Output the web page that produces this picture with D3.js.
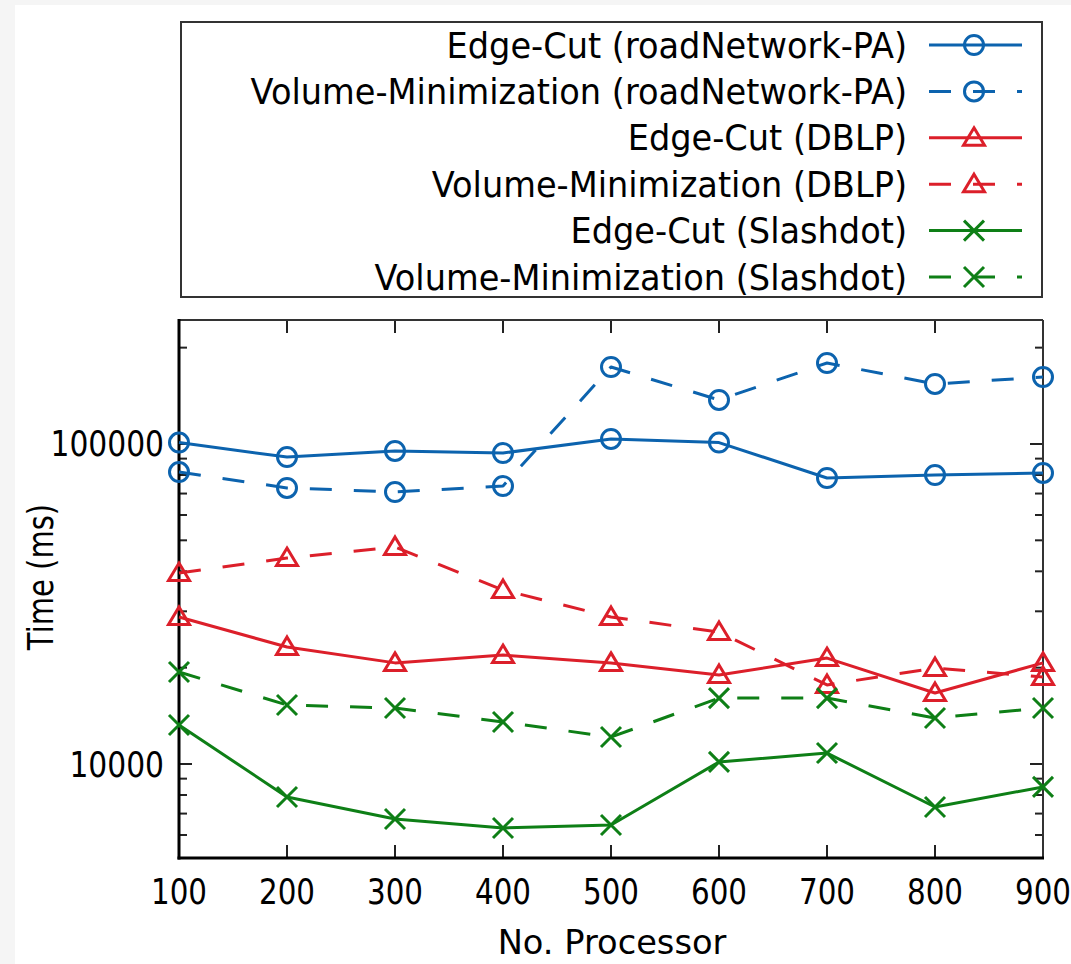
<!DOCTYPE html>
<html>
<head>
<meta charset="utf-8">
<script src="https://cdn.jsdelivr.net/npm/d3@7"></script>
<style>
  html, body { margin: 0; padding: 0; background: #f5f5f5; }
  svg { display: block; }
  text { font-family: "DejaVu Sans", Verdana, sans-serif; fill: #000; }
</style>
</head>
<body>
<svg id="chart" width="1071" height="964"></svg>
<script>
// ---- data ----
const processors = [100, 200, 300, 400, 500, 600, 700, 800, 900];
const edgeCutRoad   = [101000, 91000, 95100, 93700, 103700, 101000, 78300, 80000, 81200];
const volMinRoad    = [81700, 72900, 70800, 73900, 174000, 137300, 179100, 154000, 161900];
const edgeCutDBLP   = [28800, 23200, 20700, 21900, 20700, 18970, 21430, 16670, 20700];
const volMinDBLP    = [39500, 44000, 47650, 34970, 28800, 25850, 17660, 19950, 18700];
const edgeCutSlash  = [13240, 7890, 6730, 6310, 6450, 10150, 10820, 7340, 8480];
const volMinSlash   = [19390, 15290, 14960, 13530, 12140, 16070, 16070, 13930, 14960];
const seriesNames = [
  "Edge-Cut (roadNetwork-PA)",
  "Volume-Minimization (roadNetwork-PA)",
  "Edge-Cut (DBLP)",
  "Volume-Minimization (DBLP)",
  "Edge-Cut (Slashdot)",
  "Volume-Minimization (Slashdot)"
];
const seriesValues = [edgeCutRoad, volMinRoad, edgeCutDBLP, volMinDBLP, edgeCutSlash, volMinSlash];
const xTickValues = [100, 200, 300, 400, 500, 600, 700, 800, 900];
const yMajorTicks = [10000, 100000];
const yMinorTicks = [6000, 7000, 8000, 9000, 20000, 30000, 40000, 50000, 60000, 70000, 80000, 90000, 200000];
const yTickLabels = ["10000", "100000"];
const xTitle = "No. Processor";
const yTitle = "Time (ms)";

// ---- styles ----
const colors = ["#0c63ae", "#0c63ae", "#dc1f2a", "#dc1f2a", "#0e7f16", "#0e7f16"];
const dashed = [false, true, false, true, false, true];
const markers = ["circle", "circle", "triangle", "triangle", "cross", "cross"];

const svg = d3.select("#chart");
svg.append("rect").attr("x", 15).attr("y", 5).attr("width", 1071 - 15).attr("height", 964 - 5).attr("fill", "#fff");

const L = 179, R = 1043, T = 320, B = 858;
const x = d3.scaleLinear().domain([100, 900]).range([L, R]);
const y = d3.scaleLog().domain([5085, 244000]).range([B, T]);

// ticks (inward, mirrored)
const tickG = svg.append("g").attr("stroke", "#222").attr("stroke-width", 2);
xTickValues.forEach(v => {
  tickG.append("line").attr("x1", x(v)).attr("x2", x(v)).attr("y1", B).attr("y2", B - 13);
  tickG.append("line").attr("x1", x(v)).attr("x2", x(v)).attr("y1", T).attr("y2", T + 13);
});
yMajorTicks.forEach(v => {
  tickG.append("line").attr("x1", L).attr("x2", L + 13).attr("y1", y(v)).attr("y2", y(v));
  tickG.append("line").attr("x1", R).attr("x2", R - 13).attr("y1", y(v)).attr("y2", y(v));
});
yMinorTicks.forEach(v => {
  tickG.append("line").attr("x1", L).attr("x2", L + 8).attr("y1", y(v)).attr("y2", y(v));
  tickG.append("line").attr("x1", R).attr("x2", R - 8).attr("y1", y(v)).attr("y2", y(v));
});

// border
svg.append("line").attr("x1", L).attr("x2", R).attr("y1", T).attr("y2", T).attr("stroke", "#333").attr("stroke-width", 2);
svg.append("line").attr("x1", R).attr("x2", R).attr("y1", T).attr("y2", B).attr("stroke", "#333").attr("stroke-width", 2);
svg.append("line").attr("x1", L).attr("x2", L).attr("y1", T - 1).attr("y2", B + 1.5).attr("stroke", "#000").attr("stroke-width", 3);
svg.append("line").attr("x1", L - 1.5).attr("x2", R + 1).attr("y1", B).attr("y2", B).attr("stroke", "#000").attr("stroke-width", 3);

// condensed text helper
function ctext(parent, tx, ty, str, size, anchor, sx, rot) {
  const g = parent.append("g")
    .attr("transform", `translate(${tx},${ty})` + (rot ? ` rotate(${rot})` : "") + ` scale(${sx},1)`);
  g.append("text").attr("x", 0).attr("y", 0).attr("text-anchor", anchor)
    .style("font-size", size + "px").text(str);
  return g;
}

// tick labels
const xl = svg.append("g");
xTickValues.forEach(v => ctext(xl, x(v), 904, String(v), 35, "middle", 0.84));
const yl = svg.append("g");
yMajorTicks.forEach((v, i) => ctext(yl, 164, y(v) + 12.5, yTickLabels[i], 35, "end", 0.85));

// axis titles
ctext(svg, 612, 954, xTitle, 34, "middle", 0.99);
ctext(svg, 53, 577, yTitle, 35, "middle", 0.83, -90);

// marker drawer
function drawMarker(g, type, cx, cy, color) {
  if (type === "circle") {
    g.append("circle").attr("cx", cx).attr("cy", cy).attr("r", 9.5)
      .attr("fill", "none").attr("stroke", color).attr("stroke-width", 3);
  } else if (type === "triangle") {
    const s = 10;
    g.append("path").attr("d", `M${cx},${cy - s} L${cx + s * 1.05},${cy + s * 0.75} L${cx - s * 1.05},${cy + s * 0.75} Z`)
      .attr("fill", "none").attr("stroke", color).attr("stroke-width", 3).attr("stroke-linejoin", "miter");
  } else {
    const s = 10;
    g.append("path").attr("d", `M${cx - s},${cy - s} L${cx + s},${cy + s} M${cx - s},${cy + s} L${cx + s},${cy - s}`)
      .attr("fill", "none").attr("stroke", color).attr("stroke-width", 3);
  }
}

// series
const line = d3.line().x((d, i) => x(processors[i])).y(d => y(d));
seriesValues.forEach((vals, k) => {
  const g = svg.append("g");
  g.append("path").attr("d", line(vals)).attr("fill", "none")
    .attr("stroke", colors[k]).attr("stroke-width", 3)
    .attr("stroke-dasharray", dashed[k] ? "22,22" : null)
    .attr("stroke-linejoin", "round");
  vals.forEach((v, i) => drawMarker(g, markers[k], x(processors[i]), y(v), colors[k]));
});

// legend
svg.append("rect").attr("x", 181).attr("y", 22).attr("width", 861).attr("height", 275)
  .attr("fill", "#fff").attr("stroke", "#333").attr("stroke-width", 2);
seriesNames.forEach((name, k) => {
  const cy = 45 + 46.4 * k;
  ctext(svg, 907, cy + 12.5, name, 35, "end", 0.96);
  const g = svg.append("g");
  g.append("line").attr("x1", 929).attr("x2", 1022).attr("y1", cy).attr("y2", cy)
    .attr("stroke", colors[k]).attr("stroke-width", 3)
    .attr("stroke-dasharray", dashed[k] ? "22,22" : null);
  drawMarker(g, markers[k], 974, cy, colors[k]);
});
</script>
</body>
</html>
